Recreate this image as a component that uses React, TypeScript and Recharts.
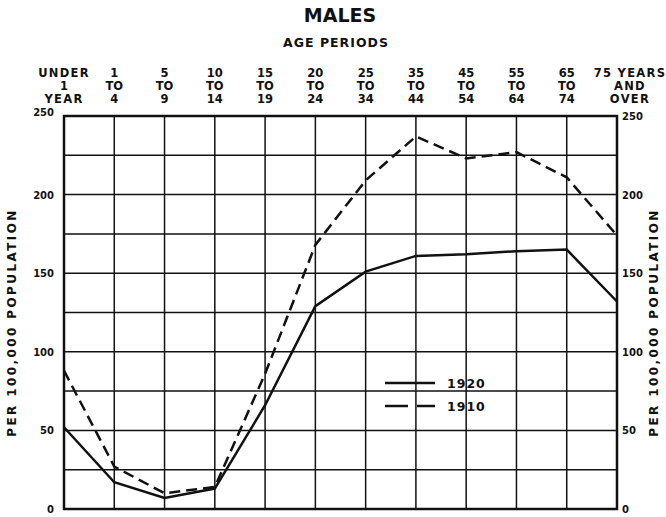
import { LineChart, Line, XAxis, YAxis, CartesianGrid, ReferenceArea } from 'recharts'

// Age period labels (three stacked rows above the chart)
const AGE_TOP = ['UNDER', '1', '5', '10', '15', '20', '25', '35', '45', '55', '65', '75 YEARS']
const AGE_MID = ['1', 'TO', 'TO', 'TO', 'TO', 'TO', 'TO', 'TO', 'TO', 'TO', 'TO', 'AND']
const AGE_BOT = ['YEAR', '4', '9', '14', '19', '24', '34', '44', '54', '64', '74', 'OVER']

// Death rate per 100,000 males
const RATE_1920 = [52, 17, 7, 13, 66, 129, 151, 161, 162, 164, 165, 132]
const RATE_1910 = [88, 27, 10, 14, 86, 168, 209, 237, 223, 227, 211, 174]

const Y_TICKS = [0, 50, 100, 150, 200, 250]
const Y_GRID = [0, 25, 50, 75, 100, 125, 150, 175, 200, 225, 250]
const X_POS = AGE_TOP.map((_, i) => i)

const INK = '#111'
const FONT = '"DejaVu Sans", Arial, sans-serif'

const data = X_POS.map(i => ({ x: i, y1920: RATE_1920[i], y1910: RATE_1910[i] }))

function AgeTick({ x, payload }: any) {
  const i = payload.value as number
  // last label hangs a bit past the right edge
  const cx = x + (i === 11 ? 13 : 0)
  const rows = [AGE_TOP[i], AGE_MID[i], AGE_BOT[i]]
  return (
    <g>
      {rows.map((s, r) => (
        <text
          key={r}
          x={cx}
          y={77 + r * 13}
          textAnchor="middle"
          style={{
            fontFamily: FONT, fontWeight: 700, fontSize: 11.5, fill: INK,
            letterSpacing: s.length > 2 && /[A-Z]/.test(s) ? 1.3 : 0,
          }}
        >
          {s}
        </text>
      ))}
    </g>
  )
}

function LeftTick({ y, payload }: any) {
  const dy = payload.value === 250 ? 0 : 4
  return (
    <text x={54} y={y + dy} textAnchor="end" style={{ fontFamily: FONT, fontWeight: 700, fontSize: 10, fill: INK }}>
      {payload.value}
    </text>
  )
}

function RightTick({ y, payload }: any) {
  return (
    <text x={622} y={y + 4} textAnchor="start" style={{ fontFamily: FONT, fontWeight: 700, fontSize: 10, fill: INK }}>
      {payload.value}
    </text>
  )
}

function AxisTitle({ viewBox, cx }: any) {
  const cy = viewBox.y + viewBox.height / 2 + 10
  return (
    <text
      x={cx}
      y={cy}
      transform={`rotate(-90 ${cx} ${cy})`}
      textAnchor="middle"
      dominantBaseline="central"
      style={{ fontFamily: FONT, fontWeight: 700, fontSize: 12, letterSpacing: 2.4, fill: INK }}
    >
      PER 100,000 POPULATION
    </text>
  )
}

export default function App() {
  return (
    <div style={{ position: 'absolute', left: 0, top: 0, width: 666, height: 517, background: '#fff' }}>
      <div
        style={{
          position: 'absolute', left: 0, width: 680, top: 4, textAlign: 'center',
          fontFamily: FONT, fontWeight: 700, fontSize: 19, color: INK,
        }}
      >
        MALES
      </div>
      <div
        style={{
          position: 'absolute', left: 0, width: 672, top: 35, textAlign: 'center',
          fontFamily: FONT, fontWeight: 700, fontSize: 12.5, letterSpacing: 1, color: INK,
        }}
      >
        AGE PERIODS
      </div>

      <LineChart width={666} height={517} data={data} margin={{ top: 0, right: 0, bottom: 8, left: 0 }}>
        <CartesianGrid
          stroke={INK}
          strokeWidth={1.5}
          horizontalValues={Y_GRID}
          verticalValues={X_POS}
        />
        <XAxis
          dataKey="x"
          type="number"
          orientation="top"
          domain={[0, 11]}
          ticks={X_POS}
          interval={0}
          height={116}
          axisLine={false}
          tickLine={false}
          tick={<AgeTick />}
        />
        <YAxis
          domain={[0, 250]}
          ticks={Y_TICKS}
          interval={0}
          width={64}
          axisLine={false}
          tickLine={false}
          tick={<LeftTick />}
          label={<AxisTitle cx={12} />}
        />
        <YAxis
          yAxisId="right"
          orientation="right"
          domain={[0, 250]}
          ticks={Y_TICKS}
          interval={0}
          width={49}
          axisLine={false}
          tickLine={false}
          tick={<RightTick />}
          label={<AxisTitle cx={654} />}
        />
        <ReferenceArea x1={0} x2={11} y1={0} y2={250} fill="none" fillOpacity={0} stroke={INK} strokeWidth={2.5} />
        <Line
          dataKey="y1920"
          stroke={INK}
          strokeWidth={2.5}
          dot={false}
          type="linear"
          isAnimationActive={false}
        />
        <Line
          yAxisId="right"
          dataKey="y1910"
          stroke={INK}
          strokeWidth={2.5}
          strokeDasharray="11 6"
          dot={false}
          type="linear"
          isAnimationActive={false}
        />
      </LineChart>

      {/* legend */}
      <svg style={{ position: 'absolute', left: 380, top: 370 }} width={120} height={50}>
        <line x1={5} y1={13} x2={55} y2={13} stroke={INK} strokeWidth={2.5} />
        <line x1={5} y1={36} x2={28} y2={36} stroke={INK} strokeWidth={2.5} />
        <line x1={37} y1={36} x2={55} y2={36} stroke={INK} strokeWidth={2.5} />
        <text x={67} y={18} style={{ fontFamily: FONT, fontWeight: 700, fontSize: 12.5, letterSpacing: 1, fill: INK }}>1920</text>
        <text x={67} y={41} style={{ fontFamily: FONT, fontWeight: 700, fontSize: 12.5, letterSpacing: 1, fill: INK }}>1910</text>
      </svg>
    </div>
  )
}
